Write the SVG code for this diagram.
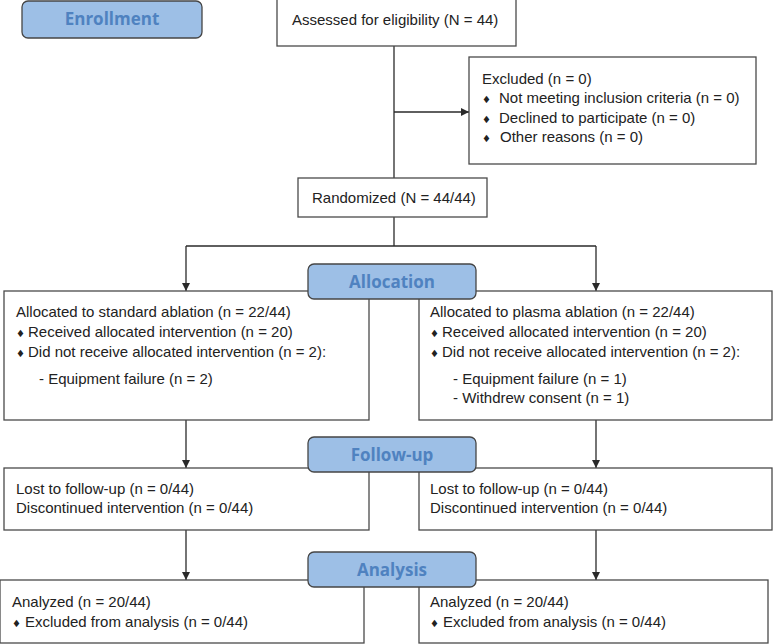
<svg xmlns="http://www.w3.org/2000/svg" width="774" height="644" viewBox="0 0 774 644">
<style>
.box{fill:#fff;stroke:#4a4a4a;stroke-width:1.3}
.lab{fill:#9dbfe6;stroke:#454545;stroke-width:1.3}
.lt{font-family:"Open Sans","Liberation Sans",sans-serif;font-weight:bold;font-size:17px;fill:#4f82c0;text-anchor:middle}
.t{font-family:"Liberation Sans",Arial,sans-serif;font-size:15px;fill:#222}
.d{font-family:"DejaVu Sans",sans-serif;font-size:10px}
.c{stroke:#2a2a2a;stroke-width:1.3;fill:none}
</style>
<defs>
<marker id="ah" viewBox="0 0 10 10" refX="10" refY="5" markerWidth="8" markerHeight="8" markerUnits="userSpaceOnUse" orient="auto">
<path d="M0,0 L10,5 L0,10 z" fill="#2a2a2a"/>
</marker>
</defs>
<g id="connectors">
<line class="c" x1="394" y1="46" x2="394" y2="178"/>
<line class="c" x1="394" y1="112" x2="469" y2="112" marker-end="url(#ah)"/>
<line class="c" x1="394" y1="217" x2="394" y2="246"/>
<line class="c" x1="186" y1="246" x2="596" y2="246"/>
<line class="c" x1="186" y1="246" x2="186" y2="291" marker-end="url(#ah)"/>
<line class="c" x1="596" y1="246" x2="596" y2="291" marker-end="url(#ah)"/>
<line class="c" x1="186" y1="420" x2="186" y2="468" marker-end="url(#ah)"/>
<line class="c" x1="596" y1="420" x2="596" y2="468" marker-end="url(#ah)"/>
<line class="c" x1="186" y1="530" x2="186" y2="580" marker-end="url(#ah)"/>
<line class="c" x1="596" y1="530" x2="596" y2="580" marker-end="url(#ah)"/>
</g>
<g id="enrollment">
<rect class="lab" x="22" y="1" width="180" height="37" rx="6"/>
<text class="lt" x="112" y="25">Enrollment</text>
</g>
<g id="assessed">
<rect class="box" x="277" y="-1" width="239" height="47"/>
<text class="t" x="292" y="25">Assessed for eligibility (N = 44)</text>
</g>
<g id="excluded">
<rect class="box" x="469" y="57" width="287" height="107"/>
<text class="t" x="482" y="84">Excluded (n = 0)</text>
<text class="t" y="103"><tspan class="d" x="482">♦</tspan><tspan x="499">Not meeting inclusion criteria (n = 0)</tspan></text>
<text class="t" y="123"><tspan class="d" x="482">♦</tspan><tspan x="499">Declined to participate (n = 0)</tspan></text>
<text class="t" y="142"><tspan class="d" x="482">♦</tspan><tspan x="500">Other reasons (n = 0)</tspan></text>
</g>
<g id="randomized">
<rect class="box" x="298" y="178" width="189" height="39"/>
<text class="t" x="312" y="203">Randomized (N = 44/44)</text>
</g>
<g id="alloc-standard">
<rect class="box" x="4" y="291" width="365" height="129"/>
<text class="t" x="16" y="317">Allocated to standard ablation (n = 22/44)</text>
<text class="t" y="337"><tspan class="d" x="16">♦</tspan><tspan x="28">Received allocated intervention (n = 20)</tspan></text>
<text class="t" y="357"><tspan class="d" x="16">♦</tspan><tspan x="28">Did not receive allocated intervention (n = 2):</tspan></text>
<text class="t" x="39" y="384">- Equipment failure (n = 2)</text>
</g>
<g id="alloc-plasma">
<rect class="box" x="419" y="291" width="353" height="129"/>
<text class="t" x="430" y="317">Allocated to plasma ablation (n = 22/44)</text>
<text class="t" y="337"><tspan class="d" x="430">♦</tspan><tspan x="442">Received allocated intervention (n = 20)</tspan></text>
<text class="t" y="357"><tspan class="d" x="430">♦</tspan><tspan x="442">Did not receive allocated intervention (n = 2):</tspan></text>
<text class="t" x="453" y="384">- Equipment failure (n = 1)</text>
<text class="t" x="453" y="403">- Withdrew consent (n = 1)</text>
</g>
<g id="allocation">
<rect class="lab" x="308" y="264" width="168" height="35" rx="6"/>
<text class="lt" x="392" y="288">Allocation</text>
</g>
<g id="followup-standard">
<rect class="box" x="4" y="468" width="365" height="62"/>
<text class="t" x="16" y="494">Lost to follow-up (n = 0/44)</text>
<text class="t" x="16" y="513">Discontinued intervention (n = 0/44)</text>
</g>
<g id="followup-plasma">
<rect class="box" x="419" y="468" width="353" height="62"/>
<text class="t" x="430" y="494">Lost to follow-up (n = 0/44)</text>
<text class="t" x="430" y="513">Discontinued intervention (n = 0/44)</text>
</g>
<g id="followup">
<rect class="lab" x="308" y="437" width="168" height="35" rx="6"/>
<text class="lt" x="392" y="461">Follow-up</text>
</g>
<g id="analysis-standard">
<rect class="box" x="0" y="580" width="364" height="63"/>
<text class="t" x="12" y="607">Analyzed (n = 20/44)</text>
<text class="t" y="627"><tspan class="d" x="12">♦</tspan><tspan x="25">Excluded from analysis (n = 0/44)</tspan></text>
</g>
<g id="analysis-plasma">
<rect class="box" x="419" y="580" width="349" height="63"/>
<text class="t" x="430" y="607">Analyzed (n = 20/44)</text>
<text class="t" y="627"><tspan class="d" x="430">♦</tspan><tspan x="443">Excluded from analysis (n = 0/44)</tspan></text>
</g>
<g id="analysis">
<rect class="lab" x="308" y="552" width="168" height="35" rx="6"/>
<text class="lt" x="392" y="576">Analysis</text>
</g>
</svg>
